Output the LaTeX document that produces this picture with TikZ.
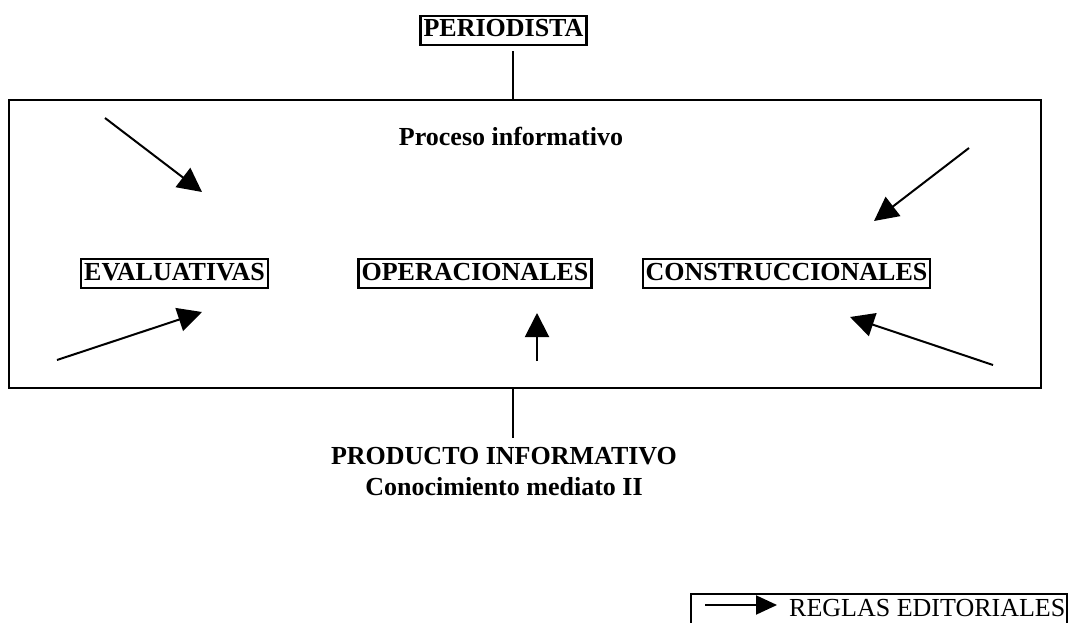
\documentclass[tikz,border=0pt]{standalone}
\usepackage{fontspec}
\setmainfont{Liberation Serif}
\usetikzlibrary{arrows.meta}
\begin{document}
\begin{tikzpicture}[x=1pt,y=-1pt,
  txt/.style={font=\fontsize{26}{31}\selectfont\bfseries},
  lbox/.style={txt,draw,line width=2.2pt,inner xsep=3pt,inner ysep=2pt,text height=19pt,text depth=6pt},
  ln/.style={line width=2pt},
  arr/.style={line width=2pt,-{Triangle[length=24pt,width=24pt]}}]
\useasboundingbox (0,0) rectangle (1070,623);
\node[draw,line width=2pt,minimum width=1032pt,minimum height=288pt,inner sep=0pt] (main) at (525,244) {};
\node[lbox] (per) at (503.5,30.5) {PERIODISTA};
\node[txt] (proc) at (511,136) {Proceso informativo};
\node[lbox] (eval) at (174.5,273.5) {EVALUATIVAS};
\node[lbox] (oper) at (475,273.5) {OPERACIONALES};
\node[lbox] (cons) at (786.5,273.5) {CONSTRUCCIONALES};
\node[txt,align=center,inner sep=0pt] (prod) at (504,472) {PRODUCTO INFORMATIVO\\Conocimiento mediato II};
\draw[ln] ([xshift=9.5pt,yshift=-5pt]per.south) -- ([xshift=-12pt]main.north);
\draw[ln] ([xshift=-12pt]main.south) -- ++(0,49) coordinate (pb);
% arrows
\coordinate (a1s) at (105,118); \coordinate (a1e) at (202,192);
\coordinate (a2s) at (57,360);  \coordinate (a2e) at (202,312);
\coordinate (a3s) at (969,148); \coordinate (a3e) at (874,221);
\coordinate (a4s) at (993,365); \coordinate (a4e) at (850,317);
\coordinate (a5s) at (537,361); \coordinate (a5e) at (537,313);
\draw[arr] (a1s) -- (a1e);
\draw[arr] (a2s) -- (a2e);
\draw[arr] (a3s) -- (a3e);
\draw[arr] (a4s) -- (a4e);
\draw[arr] (a5s) -- (a5e);
% legend
\draw[ln] (691,624) -- (691,594) -- (1067,594) -- (1067,624);
\coordinate (ls) at (705,605); \coordinate (le) at (777,605);
\draw[line width=2pt,-{Triangle[length=21pt,width=19pt]}] (ls) -- (le);
\node[font=\fontsize{26}{31}\selectfont,anchor=west,inner sep=0pt] (leg) at (789,608) {REGLAS EDITORIALES};
\end{tikzpicture}
\end{document}
